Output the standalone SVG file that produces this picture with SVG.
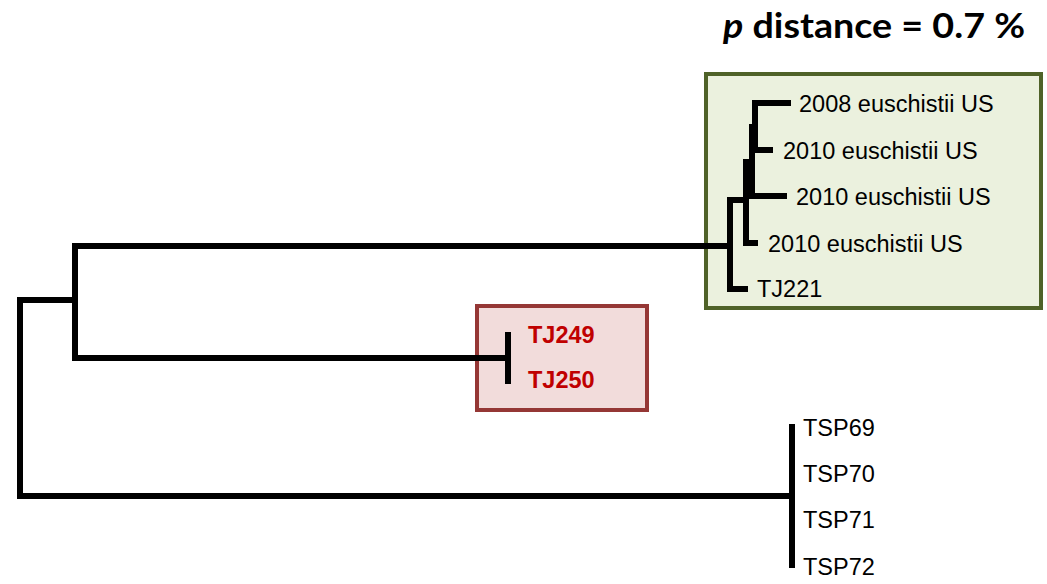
<svg xmlns="http://www.w3.org/2000/svg" width="1047" height="584" viewBox="0 0 1047 584">
<style>
.br{fill:none;stroke:#000;stroke-width:6;stroke-linecap:butt;stroke-linejoin:miter}
.lb{font-family:"Liberation Sans",Arial,sans-serif;font-size:23.5px;fill:#000}
.rd{font-family:"Liberation Sans",Arial,sans-serif;font-size:23.5px;font-weight:bold;fill:#c00000}
.ti{font-family:Lato,"Open Sans",sans-serif;font-size:34px;font-weight:bold;fill:#000}
</style>
<rect width="1047" height="584" fill="#fff"/>
<g id="title"><text class="ti" x="723" y="38" textLength="302" lengthAdjust="spacingAndGlyphs"><tspan font-style="italic">p</tspan> distance = 0.7 %</text></g>
<g id="box-green"><rect x="706" y="74" width="335" height="234" fill="#ebf1de" stroke="#4f6228" stroke-width="4"/></g>
<g id="box-red"><rect x="477" y="306" width="170" height="104" fill="#f2dcdb" stroke="#953735" stroke-width="4"/></g>
<g id="connectors">
<path class="br" d="M20,303 V496"/>
<path class="br" d="M17,300 H75"/>
<path class="br" d="M75,246 V358"/>
<path class="br" d="M72,246 H730"/>
<path class="br" d="M72,358 H508"/>
<path class="br" d="M508,332 V384"/>
<path class="br" d="M17,496 H792"/>
<path class="br" d="M792,424 V568"/>
<path class="br" d="M730,200 V289 H748"/>
<path class="br" d="M727,200 H746"/>
<path class="br" d="M746,162 V243 H758"/>
<path class="br" d="M743,162 H752"/>
<path class="br" d="M752,125 V196 H787"/>
<path class="br" d="M749,127 H755"/>
<path class="br" d="M755,103 V150 H773"/>
<path class="br" d="M752,103 H791"/>
</g>
<g id="leaf-2008"><text class="lb" x="799" y="112">2008 euschistii US</text></g>
<g id="leaf-2010a"><text class="lb" x="783" y="159">2010 euschistii US</text></g>
<g id="leaf-2010b"><text class="lb" x="796" y="205">2010 euschistii US</text></g>
<g id="leaf-2010c"><text class="lb" x="768" y="252">2010 euschistii US</text></g>
<g id="leaf-TJ221"><text class="lb" x="757" y="297">TJ221</text></g>
<g id="leaf-TJ249"><text class="rd" x="528" y="343">TJ249</text></g>
<g id="leaf-TJ250"><text class="rd" x="528" y="388">TJ250</text></g>
<g id="leaf-TSP69"><text class="lb" x="803" y="436">TSP69</text></g>
<g id="leaf-TSP70"><text class="lb" x="803" y="482">TSP70</text></g>
<g id="leaf-TSP71"><text class="lb" x="803" y="528">TSP71</text></g>
<g id="leaf-TSP72"><text class="lb" x="803" y="575">TSP72</text></g>
</svg>
